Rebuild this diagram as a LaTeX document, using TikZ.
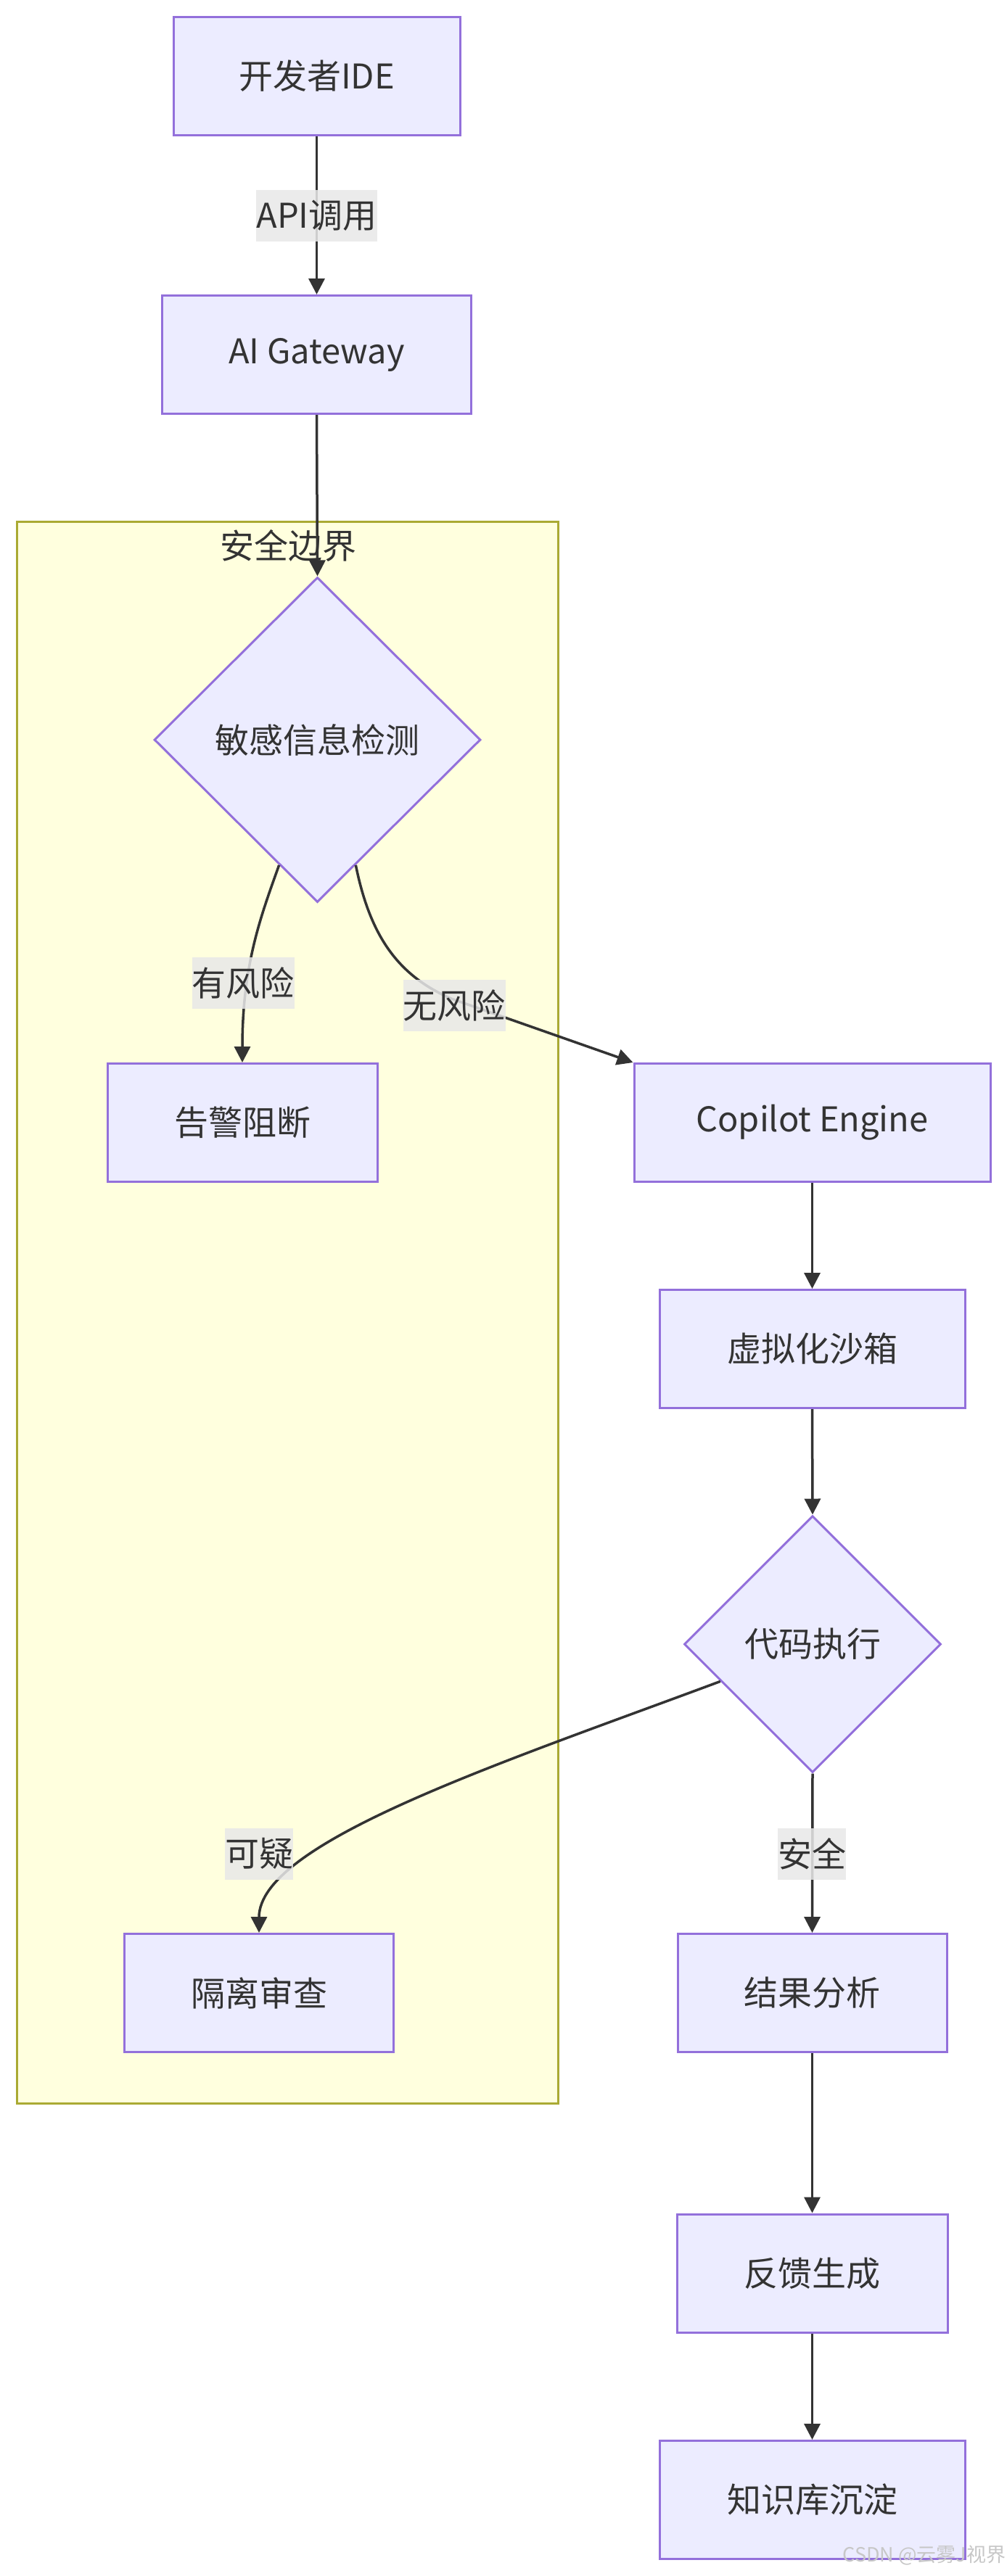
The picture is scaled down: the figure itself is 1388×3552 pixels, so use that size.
\documentclass[tikz,border=0pt]{standalone}
\usepackage{fontspec}
\setmainfont{Noto Sans CJK SC}
\usetikzlibrary{arrows.meta,shapes.geometric}
\definecolor{nodefill}{HTML}{ECECFF}
\definecolor{nodeline}{HTML}{9370DB}
\definecolor{clfill}{HTML}{FFFFDE}
\definecolor{clline}{HTML}{AAAA33}
\definecolor{ink}{HTML}{333333}
\definecolor{lblgray}{HTML}{E8E8E8}
\tikzset{
  box/.style={draw=nodeline, fill=nodefill, line width=3pt, rectangle, minimum height=163pt, inner sep=0pt, text=ink, font=\fontsize{47}{56}\selectfont},
  dia/.style={draw=nodeline, fill=nodefill, line width=3pt, diamond, inner sep=0pt, text=ink, font=\fontsize{47}{56}\selectfont},
  edge/.style={draw=ink, line width=3.5pt, -{Triangle[length=22pt,width=22pt]}},
  lbl/.style={fill=lblgray, fill opacity=0.85, text opacity=1, text=ink, inner sep=0pt, minimum height=71pt, font=\fontsize{47}{56}\selectfont},
  clbox/.style={draw=clline, fill=clfill, line width=3pt},
  cltitle/.style={text=ink, inner sep=0pt, font=\fontsize{47}{56}\selectfont}
}
\begin{document}
\begin{tikzpicture}[x=1pt,y=-1pt]
\fill[white] (0,0) rectangle (1388,3552);
\useasboundingbox (0,0) rectangle (1388,3552);
% cluster
\draw[clbox] (23.5,719) rectangle (769,2900);
\node[cltitle] (cltitle) at (397,753) {安全边界};
% nodes
\node[box, minimum width=395pt] (ide) at (436.5,105) {开发者IDE};
\node[box, minimum width=426pt] (gw) at (436.5,489) {AI Gateway};
\node[dia, minimum width=450pt, minimum height=448pt] (det) at (437.5,1020) {敏感信息检测};
\node[box, minimum width=372pt] (warn) at (334,1548) {告警阻断};
\node[box, minimum width=491pt] (cop) at (1119.5,1548) {Copilot Engine};
\node[box, minimum width=421pt] (sbx) at (1119.5,1860) {虚拟化沙箱};
\node[dia, minimum width=354pt, minimum height=354pt] (exec) at (1120,2267) {代码执行};
\node[box, minimum width=371pt] (iso) at (357,2748) {隔离审查};
\node[box, minimum width=371pt] (res) at (1119.5,2748) {结果分析};
\node[box, minimum width=373pt] (fb) at (1119.5,3134.5) {反馈生成};
\node[box, minimum width=421pt] (kb) at (1119.5,3447) {知识库沉淀};
% edges
\draw[edge] (ide.south) -- (gw.north);
\draw[edge] (gw.south) -- (det.north);
\draw[edge] (det.253) .. controls (360,1262) and (334,1330) .. (warn.north);
\draw[edge] (det.287) .. controls (510,1290) and (548,1345) .. (622,1377) -- (cop.north west);
\draw[edge] (cop.south) -- (sbx.north);
\draw[edge] (sbx.south) -- (exec.north);
\draw[edge] (exec.202) .. controls (691,2431) and (357,2540) .. (iso.north);
\draw[edge] (exec.south) -- (res.north);
\draw[edge] (res.south) -- (fb.north);
\draw[edge] (fb.south) -- (kb.north);
% edge labels
\node[lbl] (l1) at (436.5,297) {API调用};
\node[lbl] (l2) at (335,1355) {有风险};
\node[lbl] (l3) at (626,1386) {无风险};
\node[lbl] (l4) at (357,2556) {可疑};
\node[lbl] (l5) at (1119,2556) {安全};
% watermark
\node[text=black!22, inner sep=0pt, font=\fontsize{27}{30}\selectfont] (wm) at (1274,3523) {CSDN @云雾J视界};
\end{tikzpicture}
\end{document}
